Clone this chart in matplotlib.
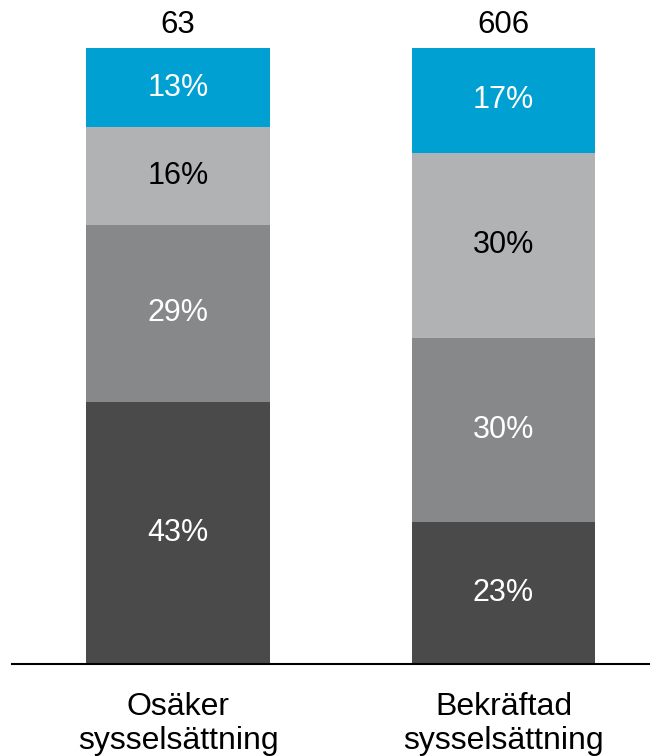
import matplotlib
matplotlib.use("Agg")
import matplotlib.pyplot as plt

plt.rcParams['font.family'] = ['Liberation Sans', 'DejaVu Sans']

categories = ["Osäker\nsysselsättning", "Bekräftad\nsysselsättning"]
totals = [63, 606]
# shares per segment, bottom to top
dark = [43, 23]
mid = [29, 30]
light = [16, 30]
blue = [13, 17]

series = [dark, mid, light, blue]
colors = ["#4a4a4a", "#87888a", "#b1b2b4", "#00a0d2"]
text_colors = ["white", "white", "black", "white"]

fig = plt.figure(figsize=(6.5, 7.56), dpi=100)
ax = fig.add_axes([12 / 650, 1 - 664 / 756, 638 / 650, 664 / 756])

x = [0, 1]
width = 0.565
for i in range(len(categories)):
    col_sum = sum(s[i] for s in series)
    bottom = 0.0
    for s, c, tc in zip(series, colors, text_colors):
        h = s[i] / col_sum
        ax.bar(x[i], h, width=width, bottom=bottom, color=c, linewidth=0)
        ax.text(x[i], bottom + h / 2, f"{s[i]}%", ha="center", va="center",
                color=tc, fontsize=22)
        bottom += h
    ax.text(x[i], bottom + 0.038, str(totals[i]), ha="center", va="center",
            color="black", fontsize=22.5)

ax.set_xlim(-0.51, 1.45)
ax.set_ylim(0, 664 / 616)
for side in ["top", "right", "left"]:
    ax.spines[side].set_visible(False)
ax.spines["bottom"].set_linewidth(1.5)
ax.spines["bottom"].set_color("black")
ax.set_yticks([])
ax.set_xticks(x)
ax.set_xticklabels(categories, fontsize=23, linespacing=1.2)
ax.tick_params(axis="x", length=0, pad=20)

fig.savefig("out.png", dpi=100)
